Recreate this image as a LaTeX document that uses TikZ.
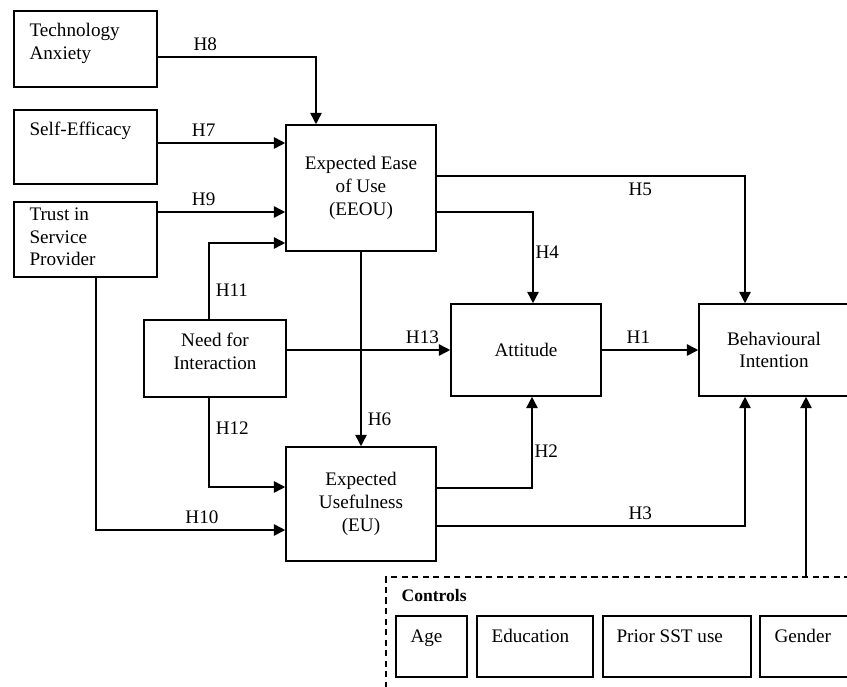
\documentclass[tikz,border=0pt]{standalone}
\usepackage{fontspec}
\setmainfont{Liberation Serif}
\usetikzlibrary{positioning, calc, arrows.meta}

\tikzset{
  box/.style={draw, line width=0.9pt, align=center},
  ctrl/.style={box, minimum height=1.22cm},
  tl/.style={anchor=north west, align=left, inner sep=0pt},
  link/.style={-{Triangle[length=6.5pt,width=6.5pt]}, line width=0.9pt},
  hyp/.style={inner sep=3.4pt}
}

\begin{document}
\begin{tikzpicture}[x=0.02cm, y=-0.02cm, font=\fontsize{10.9}{13}\selectfont]
  \useasboundingbox (0,0) rectangle (847,686);
  \clip (0,0) rectangle (847,686);

  % antecedents
  \node[box, minimum width=2.86cm, minimum height=1.52cm, label={[tl, xshift=0.32cm, yshift=-0.26cm]north west:Technology\\Anxiety}] (techanx) at (85.5,49) {};
  \node[box, minimum width=2.86cm, minimum height=1.48cm, label={[tl, xshift=0.32cm, yshift=-0.24cm]north west:Self-Efficacy}] (selfeff) at (85.5,147) {};
  \node[box, minimum width=2.86cm, minimum height=1.5cm, label={[tl, xshift=0.32cm, yshift=-0.12cm]north west:Trust in\\Service\\Provider}] (trust) at (85.5,239.5) {};
  \node[box, minimum width=2.84cm, minimum height=1.54cm] (nfi) at (215,358.5) {Need for\\Interaction\\[-4.5pt]};

  % core constructs
  \node[box, minimum width=3cm, minimum height=2.52cm] (eeou) at (361,188) {Expected Ease\\of Use\\(EEOU)};
  \node[box, minimum width=3cm, minimum height=2.28cm] (eu) at (361,504) {Expected\\Usefulness\\(EU)};
  \node[box, minimum width=3cm, minimum height=1.84cm] (att) at (526,350) {Attitude};
  \node[box, minimum width=3cm, minimum height=1.84cm] (bi) at (774,350) {Behavioural\\Intention};

  % controls
  \node[draw, dashed, dash pattern=on 3.5pt off 2.5pt, line width=0.9pt, minimum width=10.28cm, minimum height=2.86cm, label={[tl, font=\bfseries, xshift=0.32cm, yshift=-0.26cm]north west:Controls}] (controls) at (643,648.5) {};
  \node[ctrl, minimum width=1.42cm, label={[tl, xshift=0.3cm, yshift=-0.28cm]north west:Age}] (age) at (431.5,646.5) {};
  \node[ctrl, minimum width=2.32cm, label={[tl, xshift=0.3cm, yshift=-0.28cm]north west:Education}] (edu) at (535,646.5) {};
  \node[ctrl, minimum width=2.96cm, label={[tl, xshift=0.28cm, yshift=-0.28cm]north west:Prior SST use}] (prior) at (677,646.5) {};
  \node[ctrl, minimum width=2.8cm, label={[tl, xshift=0.3cm, yshift=-0.28cm]north west:Gender}] (gender) at (830,646.5) {};

  \coordinate (in7) at ($(eeou.west)+(0,-45)$);
  \coordinate (in9) at ($(eeou.west)+(0,24)$);
  \coordinate (in11) at ($(eeou.west)+(0,55)$);
  \coordinate (in12) at ($(eu.west)+(0,-17)$);
  \coordinate (in10) at ($(eu.west)+(0,26)$);
  \coordinate (ctrltop) at ($(controls.north)+(163,0)$);

  \draw[link] ($(techanx.east)+(0,8)$) -| node[hyp, above, pos=0.15] {H8} ($(eeou.north)+(-45,0)$);
  \draw[link] (selfeff.east |- in7) -- node[hyp, above, pos=0.36] {H7} (in7);
  \draw[link] (trust.east |- in9) -- node[hyp, above, pos=0.36] {H9} (in9);
  \draw[link] ($(nfi.north)+(-6,0)$) |- node[hyp, right, pos=0.19] {H11} (in11);
  \draw[link] ($(nfi.south)+(-6,0)$) |- node[hyp, right, pos=0.17] {H12} (in12);
  \draw[link] ($(trust.south)+(10.5,0)$) |- node[hyp, above, pos=0.78] {H10} (in10);
  \draw[link] (eeou) -- node[hyp, right, pos=0.86] {H6} (eu);
  \draw[link] (nfi.east |- att.west) -- node[hyp, above, pos=0.83] {H13} (att.west);
  \draw[link] ($(eeou.east)+(0,24)$) -| node[hyp, right, inner sep=1pt, pos=0.72] {H4} ($(att.north)+(7,0)$);
  \draw[link] ($(eeou.east)+(0,-12)$) -| node[hyp, below, pos=0.33] {H5} ($(bi.north)+(-29,0)$);
  \draw[link] (att) -- node[hyp, above, pos=0.38] {H1} (bi);
  \draw[link] ($(eu.east)+(0,-16)$) -| node[hyp, right, inner sep=1pt, pos=0.7] {H2} ($(att.south)+(6,0)$);
  \draw[link] ($(eu.east)+(0,22)$) -| node[hyp, above, pos=0.33] {H3} ($(bi.south)+(-29,0)$);
  \draw[link] (ctrltop) -- (ctrltop |- bi.south);
\end{tikzpicture}
\end{document}
